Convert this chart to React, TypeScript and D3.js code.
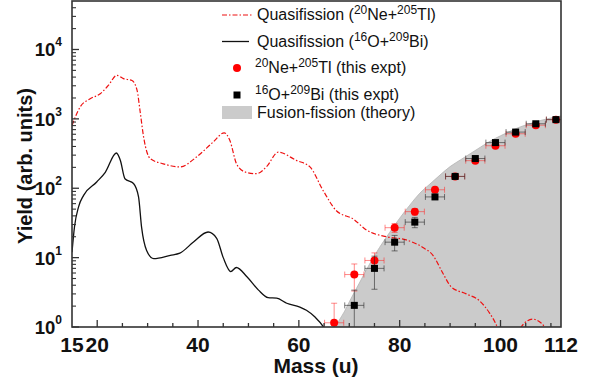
import React from "react";
import * as d3 from "d3";

// quasifission curves (mass, yield)
const neMass = [15, 16.6, 18.6, 20.6, 22.2, 23.9, 25.2, 26.9, 27.9, 28.5, 29.2, 30.5, 33.1, 36.4, 39.7, 43.0, 45.2, 46.3, 47.7, 49.5, 51.6, 53.6, 55.9, 59.5, 62.2, 64.8, 67.5, 70.8, 73.4, 77.4, 81.3, 84.6, 86.6, 88.6, 90.2, 93.2, 95.8, 97.8, 99.1, 100.5, 102.5, 104.1, 106.4, 108, 109, 110.5];
const neYield = [800, 1480, 1950, 2300, 3030, 4250, 3800, 3570, 2600, 1300, 550, 268, 225, 203, 282, 463, 630, 490, 220, 170, 162, 205, 331, 252, 203, 93, 47, 36, 25, 20, 18, 14, 10.8, 5.9, 3.8, 3.0, 2.4, 1.6, 1.1, 0.6, 0.6, 1.0, 1.3, 1.15, 0.95, 0.6];

const oMass = [15, 15.5, 16.3, 17.3, 19.9, 21.6, 23.8, 24.6, 25.5, 27.2, 28.2, 28.8, 29.8, 31.2, 34.5, 36.4, 39.1, 42.0, 43.7, 45.0, 46.5, 47.6, 49.7, 52.0, 53.9, 55.6, 57.6, 60.2, 61.5, 63.2, 64.8, 66];
const oYield = [12, 28, 54, 79, 123, 170, 322, 251, 137, 117, 75, 27.5, 12.7, 9.7, 10.8, 11.6, 16.8, 23.4, 19, 10, 6.3, 7.2, 5.3, 3.4, 2.65, 2.6, 2.2, 1.94, 1.74, 1.39, 1.02, 0.7];

// fusion-fission theory (shaded)
const thMass = [67.3, 68, 69, 70, 72, 74, 76, 78, 80, 82, 84, 86, 88, 90, 92, 94, 96, 98, 100, 102, 104, 106, 108, 110, 112];
const thYield = [1.0, 1.25, 1.65, 2.3, 4.3, 8, 14, 23, 37, 57, 85, 115, 155, 205, 255, 315, 390, 480, 570, 670, 770, 860, 950, 1030, 1100];

// experimental points
const nePtMass = [67, 71, 75, 79, 83, 87, 91, 95, 99, 103, 107, 111];
const nePtYield = [1.15, 5.7, 9.1, 27, 46, 95, 148, 250, 410, 610, 810, 975];
const nePtErr = [1.05, 2.4, 2.6, 4, 5, 8, 10, 14, 20, 30, 35, 40];

const oPtMass = [71, 75, 79, 83, 87, 91, 95, 99, 103, 107, 111];
const oPtYield = [2.05, 7.0, 16.7, 32.5, 75, 148, 268, 455, 645, 850, 975];
const oPtErr = [1.35, 3.5, 4.2, 5.5, 6, 10, 15, 20, 30, 35, 40];

const massErr = 1.9;

const xLabels = [15, 20, 40, 60, 80, 100, 112];
const xMinor = [25, 30, 35, 45, 50, 55, 65, 70, 75, 85, 90, 95, 105, 110];
const yDecades = [0, 1, 2, 3, 4];

const W = 601;
const H = 385;
const L = 72, R = 561, T = 1, B = 327;
const font = "'Liberation Sans', Arial, sans-serif";

export default function App() {
  const x = d3.scaleLinear().domain([15, 112]).range([L, R]);
  const y = d3.scaleLog().domain([1, 5e4]).range([B, T]);

  const line = d3
    .line<[number, number]>()
    .x((d) => x(d[0]))
    .y((d) => y(Math.max(d[1], 0.05)))
    .curve(d3.curveMonotoneX);

  const area = d3
    .area<[number, number]>()
    .x((d) => x(d[0]))
    .y0(B)
    .y1((d) => y(d[1]))
    .curve(d3.curveMonotoneX);

  const neLine = line(neMass.map((m, i) => [m, neYield[i]]));
  const oLine = line(oMass.map((m, i) => [m, oYield[i]]));
  const thPts: [number, number][] = thMass.map((m, i) => [m, thYield[i]]);

  const minorY: number[] = [];
  yDecades.forEach((e) => {
    for (let k = 2; k <= 9; k++) {
      const v = k * Math.pow(10, e);
      if (v < 5e4) minorY.push(v);
    }
  });

  function errBars(mass, yields, errs, color, key) {
    return mass.map((m, i) => {
      const cx = x(m);
      const cy = y(yields[i]);
      const lo = Math.min(y(Math.max(yields[i] - errs[i], 0.1)), B);
      const hi = y(yields[i] + errs[i]);
      const x0 = x(m - massErr);
      const x1 = x(m + massErr);
      return (
        <g key={key + i} stroke={color} strokeWidth={1} fill="none">
          <line x1={x0} x2={x1} y1={cy} y2={cy} />
          <line x1={x0} x2={x0} y1={cy - 3} y2={cy + 3} />
          <line x1={x1} x2={x1} y1={cy - 3} y2={cy + 3} />
          <line x1={cx} x2={cx} y1={hi} y2={lo} />
          <line x1={cx - 3} x2={cx + 3} y1={hi} y2={hi} />
          {lo < B && <line x1={cx - 3} x2={cx + 3} y1={lo} y2={lo} />}
        </g>
      );
    });
  }

  const sup = (t: string) => (
    <tspan dy={-6} fontSize={12}>
      {t}
    </tspan>
  );
  const back = (t: string) => <tspan dy={6}>{t}</tspan>;

  return (
    <svg width={W} height={H} style={{ position: "absolute", left: 0, top: 0, background: "#fff" }} fontFamily={font}>
      <defs>
        <clipPath id="plot">
          <rect x={L} y={T} width={R - L} height={B - T} />
        </clipPath>
      </defs>

      <g clipPath="url(#plot)">
        <path d={area(thPts)} fill="#cbcbcb" stroke="#b4b4b4" strokeWidth={0.8} />
        <path d={neLine} fill="none" stroke="#ee1111" strokeWidth={1.2} strokeDasharray="5,2,1.5,2" />
        <path d={oLine} fill="none" stroke="#111" strokeWidth={1.3} />
        {errBars(nePtMass, nePtYield, nePtErr, "rgba(255,40,40,0.55)", "ne")}
        {nePtMass.map((m, i) => (
          <circle key={"nc" + i} cx={x(m)} cy={y(nePtYield[i])} r={4} fill="#ff0000" />
        ))}
        {errBars(oPtMass, oPtYield, oPtErr, "rgba(40,40,40,0.6)", "o")}
        {oPtMass.map((m, i) => (
          <rect key={"os" + i} x={x(m) - 3.5} y={y(oPtYield[i]) - 3.5} width={7} height={7} fill="#000" />
        ))}
      </g>

      {/* frame */}
      <rect x={L} y={T} width={R - L} height={B - T} fill="none" stroke="#333" strokeWidth={1.6} />

      {/* x ticks */}
      {xLabels.filter((v) => v !== 15 && v !== 112).map((v) => (
        <line key={"xt" + v} x1={x(v)} x2={x(v)} y1={B} y2={B - 7} stroke="#333" strokeWidth={1.3} />
      ))}
      {xMinor.map((v) => (
        <line key={"xm" + v} x1={x(v)} x2={x(v)} y1={B} y2={B - 4} stroke="#333" strokeWidth={1.3} />
      ))}
      {xLabels.map((v) => (
        <text key={"xl" + v} x={x(v)} y={352} textAnchor="middle" fontSize={21} fontWeight="bold" fill="#111">
          {v}
        </text>
      ))}

      {/* y ticks */}
      {yDecades.map((e) => (
        <line key={"yt" + e} x1={L} x2={L + 7} y1={y(Math.pow(10, e))} y2={y(Math.pow(10, e))} stroke="#333" strokeWidth={1.3} />
      ))}
      {minorY.map((v, i) => (
        <line key={"ym" + i} x1={L} x2={L + 4} y1={y(v)} y2={y(v)} stroke="#333" strokeWidth={1.1} />
      ))}
      {yDecades.map((e) => (
        <text key={"yl" + e} x={62} y={y(Math.pow(10, e)) + 7} textAnchor="end" fontSize={18.5} fontWeight="bold" fill="#111">
          10
          <tspan dy={-10} fontSize={12}>
            {e}
          </tspan>
        </text>
      ))}

      {/* axis titles */}
      <text x={316} y={373} textAnchor="middle" fontSize={21} fontWeight="bold" fill="#111">
        Mass (u)
      </text>
      <text transform="translate(32,166) rotate(-90)" textAnchor="middle" fontSize={20} fontWeight="bold" fill="#111">
        Yield (arb. units)
      </text>

      {/* legend */}
      <g fontSize={16} fill="#111">
        <line x1={222} x2={252} y1={15} y2={15} stroke="#ee1111" strokeWidth={1.2} strokeDasharray="5,2,1.5,2" />
        <text x={257} y={20}>
          Quasifission ({sup("20")}
          {back("Ne+")}
          {sup("205")}
          {back("Tl)")}
        </text>
        <line x1={222} x2={249} y1={41.5} y2={41.5} stroke="#111" strokeWidth={1.3} />
        <text x={257} y={46.5}>
          Quasifission ({sup("16")}
          {back("O+")}
          {sup("209")}
          {back("Bi)")}
        </text>
        <circle cx={237} cy={68} r={4} fill="#ff0000" />
        <text x={255} y={73}>
          {sup("20")}
          {back("Ne+")}
          {sup("205")}
          {back("Tl (this expt)")}
        </text>
        <rect x={233.5} y={91.5} width={7} height={7} fill="#000" />
        <text x={255} y={99.5}>
          {sup("16")}
          {back("O+")}
          {sup("209")}
          {back("Bi (this expt)")}
        </text>
        <rect x={222} y={106} width={30} height={13} fill="#cbcbcb" />
        <text x={257} y={117.5}>
          Fusion-fission (theory)
        </text>
      </g>
    </svg>
  );
}
